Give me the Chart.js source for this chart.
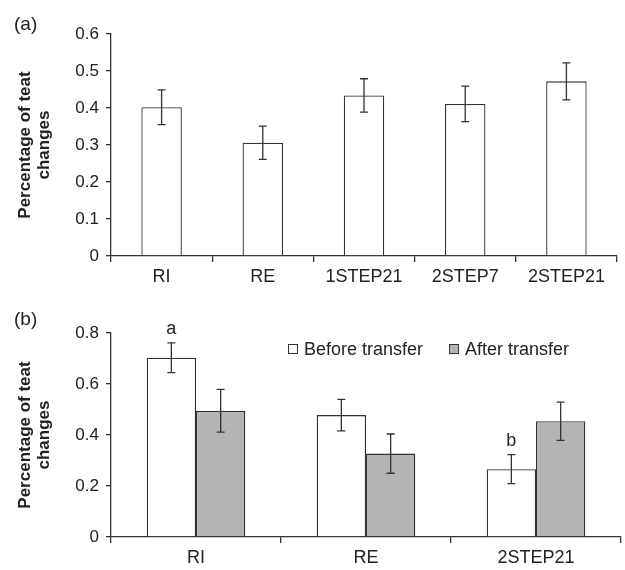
<!DOCTYPE html>
<html>
<head>
<meta charset="utf-8">
<script src="https://cdn.jsdelivr.net/npm/chart.js@4.4.1/dist/chart.umd.min.js"></script>
<style>
  html, body { margin: 0; padding: 0; background: #fff; }
  #wrap { position: relative; width: 625px; height: 570px; }
  .panel { position: absolute; left: 0; width: 625px; }
</style>
</head>
<body>
<div id="wrap">
  <div class="panel" style="top:0;height:290px;"><canvas id="chartA" width="625" height="290"></canvas></div>
  <div class="panel" style="top:290px;height:280px;"><canvas id="chartB" width="625" height="280"></canvas></div>
</div>
<script>
// ---- panel (a)
const groupsA = ['RI', 'RE', '1STEP21', '2STEP7', '2STEP21'];
const valuesA = [0.402, 0.306, 0.434, 0.411, 0.472];
const errorsA = [0.047, 0.045, 0.045, 0.048, 0.050];

// ---- panel (b)
const groupsB = ['RI', 'RE', '2STEP21'];
const seriesB = ['Before transfer', 'After transfer'];
const beforeB = [0.703, 0.478, 0.266];
const beforeErrB = [0.058, 0.062, 0.057];
const afterB = [0.495, 0.327, 0.454];
const afterErrB = [0.084, 0.077, 0.075];
const lettersB = ['a', '', 'b'];

const yTitle = ['Percentage of teat', 'changes'];

const FONT = 'Liberation Sans, Arial, Helvetica, sans-serif';
const INK = '#333';
Chart.defaults.font.family = FONT;
Chart.defaults.color = '#222';

// error bars + significance letters
const errorBars = {
  id: 'errorBars',
  afterDatasetsDraw(chart) {
    const ctx = chart.ctx;
    const y = chart.scales.y;
    ctx.save();
    ctx.strokeStyle = INK;
    ctx.lineWidth = 1.3;
    chart.data.datasets.forEach((ds, di) => {
      const meta = chart.getDatasetMeta(di);
      meta.data.forEach((bar, i) => {
        const v = ds.data[i], e = ds.errors[i];
        const top = y.getPixelForValue(v + e);
        const bot = y.getPixelForValue(v - e);
        ctx.beginPath();
        ctx.moveTo(bar.x, top); ctx.lineTo(bar.x, bot);
        ctx.moveTo(bar.x - 4, top); ctx.lineTo(bar.x + 4, top);
        ctx.moveTo(bar.x - 4, bot); ctx.lineTo(bar.x + 4, bot);
        ctx.stroke();
        if (ds.letters && ds.letters[i]) {
          ctx.fillStyle = '#222';
          ctx.font = '18px ' + FONT;
          ctx.textAlign = 'center';
          ctx.textBaseline = 'bottom';
          ctx.fillText(ds.letters[i], bar.x, top - 5);
        }
      });
    });
    ctx.restore();
  }
};

// "(a)" / "(b)" tags
const panelTag = {
  id: 'panelTag',
  afterDraw(chart, args, opts) {
    const ctx = chart.ctx;
    ctx.save();
    ctx.fillStyle = '#222';
    ctx.font = '19px ' + FONT;
    ctx.textAlign = 'left';
    ctx.textBaseline = 'middle';
    ctx.fillText(opts.text, opts.x, opts.y);
    ctx.restore();
  }
};

// inline legend for panel (b)
const boxLegend = {
  id: 'boxLegend',
  afterDraw(chart, args, opts) {
    if (!opts.show) return;
    const ctx = chart.ctx;
    ctx.save();
    ctx.font = '18px ' + FONT;
    ctx.textBaseline = 'middle';
    ctx.textAlign = 'left';
    let x = opts.x;
    const y = opts.y;
    chart.data.datasets.forEach(ds => {
      ctx.fillStyle = ds.backgroundColor;
      ctx.strokeStyle = INK;
      ctx.lineWidth = 1;
      ctx.fillRect(x, y - 5, 10, 10);
      ctx.strokeRect(x + 0.5, y - 4.5, 9, 9);
      ctx.fillStyle = '#222';
      ctx.fillText(ds.label, x + 16, y + 1);
      x += 16 + ctx.measureText(ds.label).width + 26;
    });
    ctx.restore();
  }
};

function makeScales(max, step, xHeight) {
  return {
    x: {
      afterFit: s => { s.height = xHeight; },
      grid: { display: true, drawOnChartArea: false, drawTicks: true, tickLength: 6, color: INK, lineWidth: 1.3, offset: true },
      border: { display: true, color: INK, width: 1.3 },
      ticks: { color: '#222', font: { size: 18 }, padding: 4, maxRotation: 0 }
    },
    y: {
      min: 0, max: max,
      afterFit: s => { s.width = 111; },
      grid: { display: true, drawOnChartArea: false, drawTicks: true, tickLength: 5, color: INK, lineWidth: 1.3 },
      border: { display: true, color: INK, width: 1.3 },
      ticks: { stepSize: step, color: '#222', font: { size: 17 }, padding: 7 },
      title: {
        display: true, text: yTitle, color: '#222',
        font: { size: 17, weight: 'bold', lineHeight: 1.12 },
        padding: { top: 16, bottom: 0 }
      }
    }
  };
}

new Chart(document.getElementById('chartA'), {
  type: 'bar',
  data: {
    labels: groupsA,
    datasets: [{
      label: 'Percentage',
      data: valuesA,
      errors: errorsA,
      backgroundColor: '#ffffff',
      borderColor: INK,
      borderWidth: 1.3,
      barPercentage: 0.4,
      categoryPercentage: 1.0
    }]
  },
  options: {
    responsive: false,
    animation: false,
    layout: { padding: { top: 34, right: 8, left: 0, bottom: 0 } },
    plugins: {
      legend: { display: false },
      tooltip: { enabled: false },
      panelTag: { text: '(a)', x: 14, y: 25 },
      boxLegend: { show: false }
    },
    scales: makeScales(0.6, 0.1, 34)
  },
  plugins: [errorBars, panelTag, boxLegend]
});

new Chart(document.getElementById('chartB'), {
  type: 'bar',
  data: {
    labels: groupsB,
    datasets: [{
      label: seriesB[0],
      data: beforeB,
      errors: beforeErrB,
      letters: lettersB,
      backgroundColor: '#ffffff',
      borderColor: INK,
      borderWidth: 1.3,
      barPercentage: 1.0,
      categoryPercentage: 0.58
    }, {
      label: seriesB[1],
      data: afterB,
      errors: afterErrB,
      backgroundColor: '#b4b4b4',
      borderColor: INK,
      borderWidth: 1.3,
      barPercentage: 1.0,
      categoryPercentage: 0.58
    }]
  },
  options: {
    responsive: false,
    animation: false,
    layout: { padding: { top: 43, right: 4, left: 0, bottom: 0 } },
    plugins: {
      legend: { display: false },
      tooltip: { enabled: false },
      panelTag: { text: '(b)', x: 14, y: 30 },
      boxLegend: { show: true, x: 288, y: 59 }
    },
    scales: makeScales(0.8, 0.2, 33)
  },
  plugins: [errorBars, panelTag, boxLegend]
});
</script>
</body>
</html>
